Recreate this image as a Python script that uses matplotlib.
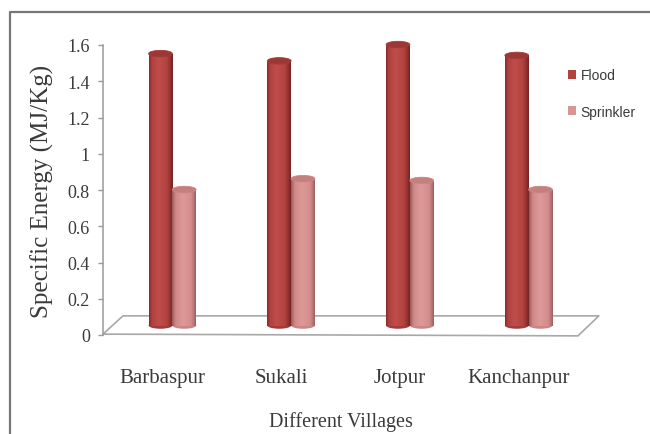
import numpy as np
import matplotlib
matplotlib.use("Agg")
import matplotlib.pyplot as plt
from matplotlib.patches import Ellipse, Patch
from matplotlib.lines import Line2D
from matplotlib.colors import LinearSegmentedColormap
from matplotlib.transforms import ScaledTranslation

# specific energy per village, MJ/Kg
villages = ["Barbaspur", "Sukali", "Jotpur", "Kanchanpur"]
flood = [1.50, 1.46, 1.55, 1.49]
sprinkler = [0.75, 0.81, 0.80, 0.75]
yticks = [0, 0.2, 0.4, 0.6, 0.8, 1, 1.2, 1.4, 1.6]

serif = ["Liberation Serif", "DejaVu Serif"]
txt = "#3a3a3a"

fig = plt.figure(figsize=(6.5, 4.35), dpi=100)
W, H = 650, 435

# chart frame (left and top edge only, the rest is cut off)
fig.add_artist(Line2D([10 / W, 10 / W, 1], [0, 1 - 13 / H, 1 - 13 / H],
                      transform=fig.transFigure, color="#777777", lw=1.6))

ax = fig.add_axes([103 / W, (H - 336) / H, 475 / W, 290 / H])

# bars sit half way into the 3d floor
depth_off = ScaledTranslation(10 / 100, 9.5 / 100, fig.dpi_scale_trans)
bar_tr = ax.transData + depth_off

bw = 0.2
cap_h = 0.036

flood_cm = LinearSegmentedColormap.from_list(
    "fl", [(0, "#8a2c2a"), (0.12, "#b0413f"), (0.4, "#bf4e4b"),
           (0.75, "#b3433f"), (0.9, "#93312f"), (1, "#722422")])
spr_cm = LinearSegmentedColormap.from_list(
    "sp", [(0, "#9c5a5a"), (0.15, "#cf8988"), (0.45, "#dd9a98"),
           (0.8, "#d48d8c"), (0.93, "#b57473"), (1, "#9a5d5c")])

def cylinder(xl, val, cmap, cap_col, base_col):
    grad = cmap(np.linspace(0, 1, 64))[np.newaxis, :, :3]
    xc = xl + bw / 2
    ax.add_patch(Ellipse((xc, 0), bw, cap_h, transform=bar_tr, clip_on=False,
                         facecolor=base_col, edgecolor="none", zorder=3))
    img = ax.imshow(grad, extent=(xl, xl + bw, 0, val), transform=bar_tr,
                    aspect="auto", interpolation="bilinear", zorder=4)
    img.set_clip_on(False)
    ax.add_patch(Ellipse((xc, val), bw, cap_h, transform=bar_tr, clip_on=False,
                         facecolor=cap_col, edgecolor=base_col, lw=0.6, zorder=5))

x = np.arange(len(villages))
for i in range(len(villages)):
    cylinder(x[i] - bw, flood[i], flood_cm, "#9c3735", "#a23b39")
    cylinder(x[i], sprinkler[i], spr_cm, "#c47f7e", "#c98685")

ax.set_xlim(-0.5, 3.5)
ax.set_ylim(0, 1.6)

# 3d floor
floor = [(0, 0.003), (1, -0.003), (1.044, 0.066), (0.042, 0.066), (0, 0.003)]
ax.add_line(Line2D([p[0] for p in floor], [p[1] for p in floor],
                   transform=ax.transAxes, color="#a8a8a8", lw=1.2,
                   clip_on=False, zorder=2))

for s in ["top", "right", "bottom"]:
    ax.spines[s].set_visible(False)
ax.spines["left"].set_color("#9a9a9a")
ax.spines["left"].set_linewidth(1.1)

ax.set_yticks(yticks)
ax.set_yticklabels([f"{v:g}" for v in yticks], family=serif, fontsize=13, color=txt)
ax.tick_params(axis="y", length=3.5, width=1, color="#9a9a9a", pad=6)

ax.set_xticks(x)
ax.set_xticklabels(villages, family=serif, fontsize=15, color=txt)
ax.tick_params(axis="x", length=0, pad=24)

ax.set_xlabel("Different Villages", family=serif, fontsize=14.5, color=txt, labelpad=17)
ax.set_ylabel("Specific Energy (MJ/Kg)", family=serif, fontsize=18, color=txt)
ax.yaxis.set_label_coords(-0.104, 0.5)

handles = [Patch(facecolor="#b3423f", edgecolor="none"),
           Patch(facecolor="#d99594", edgecolor="none")]
fig.legend(handles, ["Flood", "Sprinkler"], loc="upper left",
           bbox_to_anchor=(555 / W, 1 - 57 / H), frameon=False,
           prop={"family": ["Liberation Sans", "DejaVu Sans"], "size": 10},
           handlelength=0.6, handleheight=0.6, handletextpad=0.35,
           labelspacing=1.6, labelcolor=txt)

fig.savefig("out.png", dpi=100)
